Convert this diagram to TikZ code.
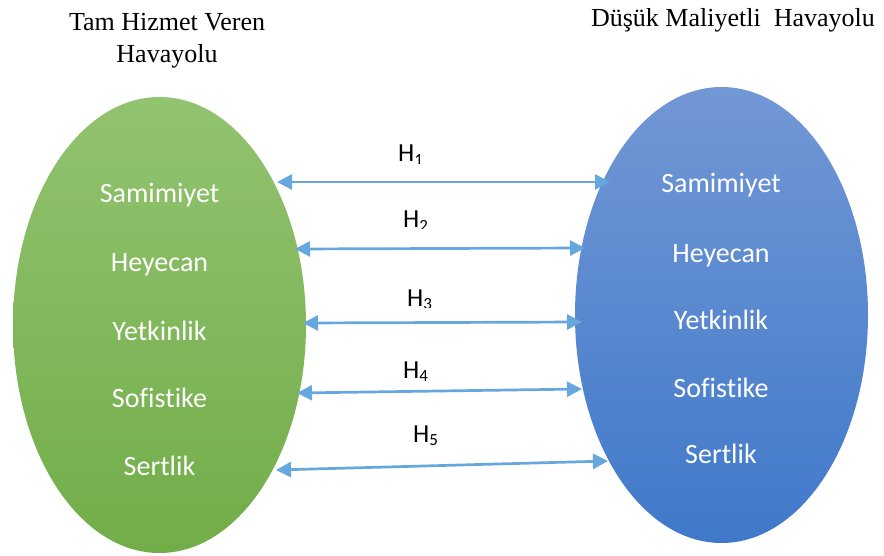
\documentclass[tikz,border=0pt]{standalone}
\usepackage{fontspec}
\setmainfont{Liberation Serif}
\newfontfamily\calfont[Ligatures=NoCommon]{Carlito}
\usetikzlibrary{arrows.meta,shapes.geometric}
\definecolor{arrowblue}{RGB}{102,168,222}
\definecolor{gtop}{RGB}{146,195,112}
\definecolor{gbot}{RGB}{114,173,72}
\definecolor{btop}{RGB}{114,151,213}
\definecolor{bbot}{RGB}{64,121,202}
\tikzset{
  oval/.style={ellipse, minimum width=293pt, minimum height=456pt, inner sep=0pt},
  trait/.style={anchor=base, text=white, font=\calfont\fontsize{28}{32}\selectfont, inner sep=0pt},
  title/.style={anchor=base, font=\fontsize{26}{30}\selectfont, inner sep=0pt},
  hlab/.style={anchor=base west, font=\calfont\fontsize{26}{30}\selectfont, inner sep=0pt},
  link/.style={arrowblue, line width=2.7pt, {Triangle[length=15pt,width=15pt]}-{Triangle[length=15pt,width=15pt]}}
}
\newcommand{\hsub}[1]{H\raisebox{-3.5pt}{\fontsize{17}{17}\selectfont #1}}
\begin{document}
\begin{tikzpicture}[x=1pt,y=-1pt]
\useasboundingbox (0,0) rectangle (884,556);
% titles
\node[title] (tl1) at (167,31) {Tam Hizmet Veren};
\node[title] (tl2) at (167,63) {Havayolu};
\node[title] (tr) at (733,27) {Düşük Maliyetli\ \ Havayolu};
% ovals
\node[oval, top color=gtop, bottom color=gbot] (L) at (159.5,325) {};
\node[oval, top color=btop, bottom color=bbot] (R) at (721.5,315) {};
% traits left
\node[trait] (l1) at (159.5,203) {Samimiyet};
\node[trait] (l2) at (159.5,272) {Heyecan};
\node[trait] (l3) at (159.5,340) {Yetkinlik};
\node[trait] (l4) at (159.5,407) {Sofis\kern0pt tike};
\node[trait] (l5) at (159.5,475) {Sertlik};
% traits right
\node[trait] (r1) at (721,193) {Samimiyet};
\node[trait] (r2) at (721,262) {Heyecan};
\node[trait] (r3) at (721,330) {Yetkinlik};
\node[trait] (r4) at (721,397) {Sofis\kern0pt tike};
\node[trait] (r5) at (721,463) {Sertlik};
% arrow ends
\coordinate (a1) at (277,182); \coordinate (b1) at (610,182);
\coordinate (a2) at (295,249); \coordinate (b2) at (585,248);
\coordinate (a3) at (303,323); \coordinate (b3) at (582,322);
\coordinate (a4) at (297,393); \coordinate (b4) at (582,389);
\coordinate (a5) at (276,470); \coordinate (b5) at (608,461);
\draw[link] (a1) -- (b1);
\draw[link] (a2) -- (b2);
\draw[link] (a3) -- (b3);
\draw[link] (a4) -- (b4);
\draw[link] (a5) -- (b5);
% H labels (clipped as in the reference)
\begin{scope}\clip (380,130) rectangle (450,164);
\node[hlab] (h1) at (398,162) {\hsub{1}};\end{scope}
\begin{scope}\clip (380,195) rectangle (450,229);
\node[hlab] (h2) at (403,228) {\hsub{2}};\end{scope}
\begin{scope}\clip (380,275) rectangle (450,307);
\node[hlab] (h3) at (407,306) {\hsub{3}};\end{scope}
\begin{scope}\clip (380,345) rectangle (450,380);
\node[hlab] (h4) at (403,378) {\hsub{4}};\end{scope}
\node[hlab] (h5) at (413,442) {\hsub{5}};
\end{tikzpicture}
\end{document}
